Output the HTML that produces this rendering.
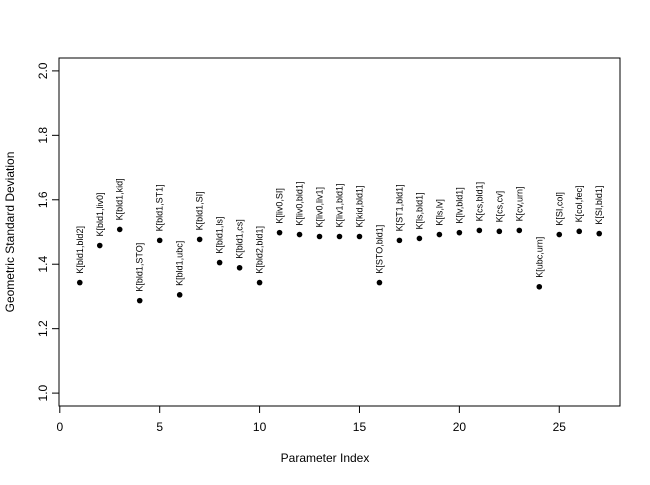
<!DOCTYPE html>
<html><head><meta charset="utf-8"><style>
body{margin:0;background:#fff}
svg text{font-family:"Liberation Sans",Arial,sans-serif}
</style></head><body>
<svg id="chart" width="650" height="480" xmlns="http://www.w3.org/2000/svg">
<rect x="0" y="0" width="650" height="480" fill="#fff"/>
<rect x="59" y="58" width="561" height="348" fill="none" stroke="#000" stroke-width="1"/>
<text x="325" y="462" font-size="12" text-anchor="middle">Parameter Index</text>
<text transform="translate(14,232) rotate(-90)" font-size="12" text-anchor="middle">Geometric Standard Deviation</text>
<g id="xaxis"></g>
<g id="yaxis"></g>
<g id="points"></g>
</svg>
<script>
const labels=["K[bld1,bld2]","K[bld1,liv0]","K[bld1,kid]","K[bld1,STO]","K[bld1,ST1]","K[bld1,ubc]","K[bld1,SI]","K[bld1,ls]","K[bld1,cs]","K[bld2,bld1]","K[liv0,SI]","K[liv0,bld1]","K[liv0,liv1]","K[liv1,bld1]","K[kid,bld1]","K[STO,bld1]","K[ST1,bld1]","K[ls,bld1]","K[ls,lv]","K[lv,bld1]","K[cs,bld1]","K[cs,cv]","K[cv,urn]","K[ubc,urn]","K[SI,col]","K[col,fec]","K[SI,bld1]"];
const values=[1.343,1.458,1.508,1.287,1.474,1.305,1.477,1.405,1.389,1.343,1.498,1.492,1.486,1.486,1.486,1.343,1.474,1.480,1.492,1.498,1.505,1.502,1.505,1.330,1.492,1.502,1.495];
const xTicks=[0,5,10,15,20,25];
const yTicks=[1.0,1.2,1.4,1.6,1.8,2.0];
const NS="http://www.w3.org/2000/svg";
const X0=59,X1=620,XMIN=-0.04,XMAX=28.04,Y0=406,Y1=58,YMIN=0.96,YMAX=2.04;
function sx(v){return X0+(v-XMIN)/(XMAX-XMIN)*(X1-X0);}
function sy(v){return Y0-(v-YMIN)/(YMAX-YMIN)*(Y0-Y1);}
function mk(t,a,p){const e=document.createElementNS(NS,t);for(const k in a)e.setAttribute(k,a[k]);p.appendChild(e);return e;}
const xa=document.getElementById('xaxis'),ya=document.getElementById('yaxis'),pg=document.getElementById('points');
mk('line',{x1:sx(0),x2:sx(25),y1:Y0,y2:Y0,stroke:'#000'},xa);
xTicks.forEach(t=>{
 const l=mk('line',{x1:sx(t),x2:sx(t),y1:Y0,y2:Y0+7,stroke:'#000'},xa);
 
 
 const tx=mk('text',{x:sx(t),y:Y0+25,'font-size':12,'text-anchor':'middle'},xa);
 tx.textContent=t;
 
 
});
mk('line',{x1:X0,x2:X0,y1:sy(1),y2:sy(2),stroke:'#000'},ya);
yTicks.forEach(t=>{
 const l=mk('line',{x1:X0-7,x2:X0,y1:sy(t),y2:sy(t),stroke:'#000'},ya);
 
 
 const tx=mk('text',{transform:`translate(${X0-12},${sy(t)}) rotate(-90)`,'font-size':12,'text-anchor':'middle'},ya);
 tx.textContent=t.toFixed(1);
 
 
});
values.forEach((v,i)=>{
 const x=sx(i+1),y=sy(v);
 const c=mk('circle',{cx:x,cy:y,r:2.8,fill:'#000'},pg);
 
 
 const tx=mk('text',{transform:`translate(${x+3},${y-9}) rotate(-90)`,'font-size':9},pg);
 tx.textContent=labels[i];
 
 
});
</script>
</body></html>
